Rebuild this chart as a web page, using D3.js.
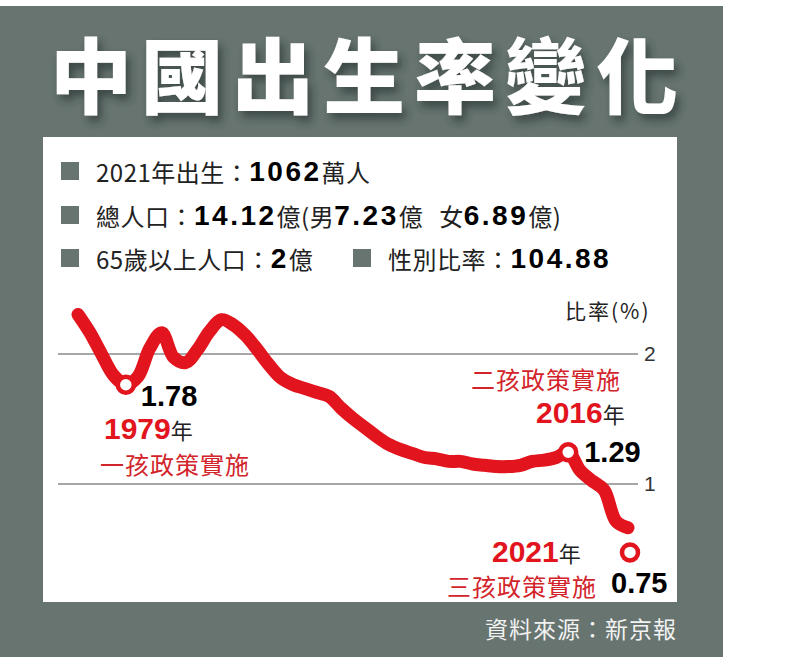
<!DOCTYPE html>
<html>
<head>
<meta charset="utf-8">
<script src="https://cdn.jsdelivr.net/npm/d3@7"></script>
<style>
  body { margin: 0; background: #fff; }
  svg { display: block; }
</style>
</head>
<body>
<svg></svg>
<script>
const w = 799;
const h = 657;

// birth rate (%), one point per year
const years = [
  1975, 1976, 1977, 1978, 1979, 1980, 1981, 1982, 1983, 1984,
  1985, 1986, 1987, 1988, 1989, 1990, 1991, 1992, 1993, 1994,
  1995, 1996, 1997, 1998, 1999, 2000, 2001, 2002, 2003, 2004,
  2005, 2006, 2007, 2008, 2009, 2010, 2011, 2012, 2013, 2014,
  2015, 2016, 2017, 2018, 2019, 2020, 2021
];
const rates = [
  2.30, 2.16, 1.99, 1.83, 1.76, 1.82, 2.04, 2.16, 1.97, 1.93,
  2.03, 2.17, 2.26, 2.22, 2.14, 2.03, 1.91, 1.81, 1.76, 1.73,
  1.70, 1.67, 1.58, 1.50, 1.43, 1.36, 1.30, 1.26, 1.23, 1.20,
  1.19, 1.17, 1.17, 1.15, 1.14, 1.13, 1.13, 1.14, 1.17, 1.18,
  1.20, 1.24, 1.10, 1.02, 0.95, 0.71, 0.66
];

// marked years (circle position as drawn) and their printed values
const markYears = [1979, 2016, 2021];
const markRates = [1.76, 1.24, 0.47];
const markLabels = ['1.78', '1.29', '0.75'];
const policyLabels = ['一孩政策實施', '二孩政策實施', '三孩政策實施'];

const yTicks = [1, 2];

const title = '中國出生率變化';
const source = '資料來源：新京報';

// info block rows: [text, bold, dx]
const infoRow1 = [['2021年出生：', false], ['1062', true], ['萬人', false]];
const infoRow2 = [
  ['總人口：', false], ['14.12', true], ['億(男', false], ['7.23', true],
  ['億', false], ['女', false, 16], ['6.89', true], ['億)', false]
];
const infoRow3a = [['65歲以上人口：', false], ['2', true], ['億', false]];
const infoRow3b = [['性別比率：', false], ['104.88', true]];

const grey = '#67746f';
const red = '#e2141d';
const redText = '#d3232a';
const cjk = '"Noto Sans CJK TC", "Noto Sans CJK SC", sans-serif';
const num = '"Liberation Sans", Arial, sans-serif';

const svg = d3.select('svg').attr('width', w).attr('height', h);

const defs = svg.append('defs');
defs
  .append('filter')
  .attr('id', 'shadow')
  .attr('x', '-10%')
  .attr('y', '-20%')
  .attr('width', '130%')
  .attr('height', '160%')
  .append('feDropShadow')
  .attr('dx', 4)
  .attr('dy', 6)
  .attr('stdDeviation', 4)
  .attr('flood-color', '#25302d')
  .attr('flood-opacity', 0.65);

// panels
svg
  .append('rect')
  .attr('x', 0)
  .attr('y', 6)
  .attr('width', 723)
  .attr('height', h - 6)
  .attr('fill', grey);

svg
  .append('rect')
  .attr('x', 43)
  .attr('y', 137)
  .attr('width', 634)
  .attr('height', 465)
  .attr('fill', '#fff');

// title
svg
  .append('text')
  .text(title)
  .attr('x', 50)
  .attr('y', 71)
  .attr('dominant-baseline', 'central')
  .attr('fill', '#fff')
  .attr('filter', 'url(#shadow)')
  .style('font-family', cjk)
  .style('font-weight', 900)
  .style('font-size', '82px')
  .style('letter-spacing', '9px');

// info rows
function infoLine(segs, x, y) {
  svg
    .append('rect')
    .attr('x', x - 35)
    .attr('y', y - 9)
    .attr('width', 18)
    .attr('height', 18)
    .attr('fill', grey);
  const t = svg
    .append('text')
    .attr('x', x)
    .attr('y', y)
    .attr('dominant-baseline', 'central')
    .attr('fill', '#111');
  segs.forEach(s => {
    t.append('tspan')
      .text(s[0])
      .attr('dx', s[2] || 0)
      .style('font-family', s[1] ? num : cjk)
      .style('font-weight', s[1] ? 700 : 400)
      .style('font-size', s[1] ? '28px' : '24px')
      .style('letter-spacing', s[1] ? '2.5px' : '0.5px')
      .attr('fill', s[1] ? '#000' : '#222');
  });
}

infoLine(infoRow1, 96, 171);
infoLine(infoRow2, 96, 215);
infoLine(infoRow3a, 96, 258);
infoLine(infoRow3b, 388, 258);

// scales
const x = d3.scaleLinear().domain([1975, 2021]).range([78, 628]);
const y = d3.scaleLinear().domain([1, 2]).range([483.5, 353.5]);

// grid
const grid = svg
  .append('g')
  .attr('transform', 'translate(58,0)')
  .call(
    d3
      .axisRight(y)
      .tickValues(yTicks)
      .tickSize(580)
      .tickFormat(d3.format('d'))
  );
grid.select('.domain').remove();
grid
  .selectAll('.tick line')
  .attr('stroke', '#8a8a8a')
  .attr('stroke-width', 1.6);
grid
  .selectAll('.tick text')
  .attr('x', 586)
  .attr('fill', '#333')
  .style('font-family', num)
  .style('font-size', '21px');

svg
  .append('text')
  .text('比率(%)')
  .attr('x', 565)
  .attr('y', 310)
  .attr('dominant-baseline', 'central')
  .attr('fill', '#222')
  .style('font-family', cjk)
  .style('font-size', '21px')
  .style('letter-spacing', '2px');

// line
const line = d3
  .line()
  .x((d, i) => x(years[i]))
  .y(d => y(d))
  .curve(d3.curveCatmullRom.alpha(0.5));

svg
  .append('path')
  .datum(rates)
  .attr('d', line)
  .attr('fill', 'none')
  .attr('stroke', red)
  .attr('stroke-width', 13)
  .attr('stroke-linecap', 'round')
  .attr('stroke-linejoin', 'round');

svg
  .selectAll('.mark')
  .data(markYears)
  .enter()
  .append('circle')
  .attr('class', 'mark')
  .attr('cx', d => x(d) + (d === 2021 ? 2 : 0))
  .attr('cy', (d, i) => y(markRates[i]))
  .attr('r', 8)
  .attr('fill', '#fff')
  .attr('stroke', red)
  .attr('stroke-width', 4.5);

// annotations
function numLabel(txt, px, py, fill, size, anchor) {
  return svg
    .append('text')
    .text(txt)
    .attr('x', px)
    .attr('y', py)
    .attr('text-anchor', anchor || 'start')
    .attr('fill', fill)
    .style('font-family', num)
    .style('font-weight', 700)
    .style('font-size', size + 'px');
}

function yearLabel(yr, px, py) {
  const t = svg.append('text').attr('x', px).attr('y', py);
  t.append('tspan')
    .text(yr)
    .attr('fill', red)
    .style('font-family', num)
    .style('font-weight', 700)
    .style('font-size', '30px');
  t.append('tspan')
    .text('年')
    .attr('fill', '#222')
    .style('font-family', cjk)
    .style('font-size', '22px');
}

function policyLabel(txt, px, py, anchor) {
  svg
    .append('text')
    .text(txt)
    .attr('x', px)
    .attr('y', py)
    .attr('text-anchor', anchor || 'start')
    .attr('dominant-baseline', 'central')
    .attr('fill', redText)
    .style('font-family', cjk)
    .style('font-size', '24px')
    .style('letter-spacing', '1px');
}

// 1979
numLabel(markLabels[0], x(markYears[0]) + 15, 406, '#000', 29);
yearLabel(String(markYears[0]), 104, 439);
policyLabel(policyLabels[0], 100, 463);

// 2016
policyLabel(policyLabels[1], 621, 378, 'end');
yearLabel(String(markYears[1]), 536, 423);
numLabel(markLabels[1], x(markYears[1]) + 16, 462, '#000', 29);

// 2021
yearLabel(String(markYears[2]), 492, 562);
policyLabel(policyLabels[2], 447, 585);
numLabel(markLabels[2], 611, 593, '#000', 29);

// source
svg
  .append('text')
  .text(source)
  .attr('x', 677)
  .attr('y', 628)
  .attr('text-anchor', 'end')
  .attr('dominant-baseline', 'central')
  .attr('fill', '#f2f2f2')
  .style('font-family', cjk)
  .style('font-size', '23px')
  .style('letter-spacing', '1px');
</script>
</body>
</html>
